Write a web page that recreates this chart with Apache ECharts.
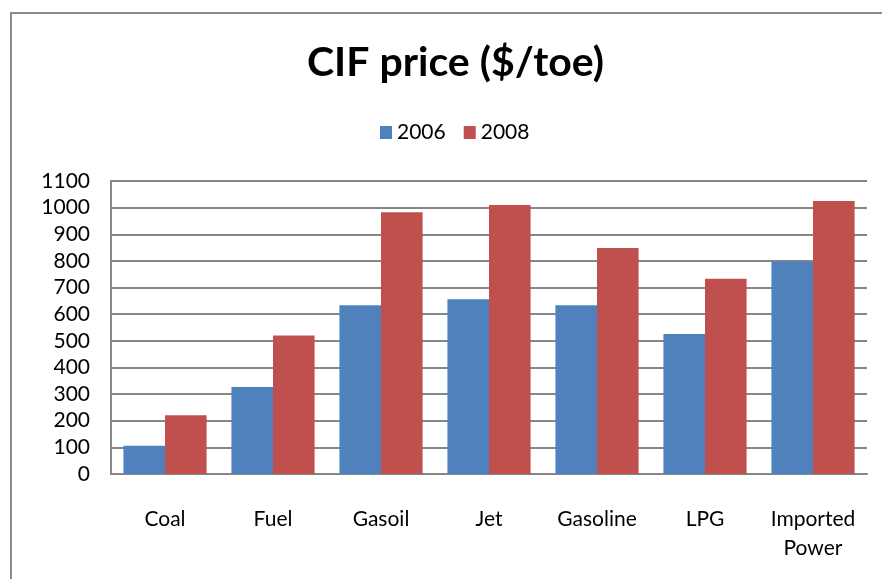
<!DOCTYPE html>
<html>
<head>
    <meta charset="UTF-8">
    <title>CIF price</title>
    <script src="https://cdn.jsdelivr.net/npm/echarts@6/dist/echarts.min.js"></script>
    <style>
        html, body { margin: 0; padding: 0; background: #fff; }
    </style>
</head>
<body>
<div id="container" style="width: 882px; height: 579px;"></div>
<script>

    // data
    var categories = ['Coal', 'Fuel', 'Gasoil', 'Jet', 'Gasoline', 'LPG', 'Imported\nPower'];
    var years = ['2006', '2008'];
    var values2006 = [106, 327, 634, 656, 634, 526, 798];
    var values2008 = [221, 520, 983, 1010, 848, 733, 1025];
    var yTicks = { min: 0, max: 1100, interval: 100 };

    var font = 'Lato, "Open Sans", sans-serif';

    var mychart = echarts.init(document.getElementById('container'));

    var option = {
        animation: false,
        title: {
            text: 'CIF price ($/toe)',
            left: 302,
            top: 37,
            textStyle: { fontFamily: font, fontSize: 41, fontWeight: 'bold', color: '#000' }
        },
        legend: {
            data: years,
            left: 375,
            top: 117,
            itemWidth: 12,
            itemHeight: 13,
            itemGap: 18,
            icon: 'rect',
            textStyle: { fontFamily: font, fontSize: 21, color: '#000' }
        },
        grid: { left: 111, right: 15, top: 181, bottom: 105 },
        xAxis: {
            type: 'category',
            data: categories,
            axisLine: { lineStyle: { color: '#868686', width: 2 } },
            axisTick: { show: false },
            axisLabel: { fontFamily: font, fontSize: 21, color: '#000', margin: 31, lineHeight: 29, interval: 0 }
        },
        yAxis: {
            type: 'value',
            min: yTicks.min,
            max: yTicks.max,
            interval: yTicks.interval,
            axisLine: { show: true, lineStyle: { color: '#868686', width: 2 } },
            axisTick: { show: false },
            splitLine: { lineStyle: { color: '#868686', width: 2 } },
            axisLabel: {
                fontFamily: font, fontSize: 21, color: '#000', margin: 21,
                formatter: function (v) { return String(v); }
            }
        },
        series: [
            {
                name: years[0],
                type: 'bar',
                data: values2006,
                barGap: '0%',
                barCategoryGap: '23%',
                itemStyle: { color: '#4F81BD' }
            },
            {
                name: years[1],
                type: 'bar',
                data: values2008,
                barGap: '0%',
                barCategoryGap: '23%',
                itemStyle: { color: '#C0504D' }
            }
        ],
        graphic: [{
            type: 'rect',
            shape: { x: 11, y: 13, width: 1000, height: 700 },
            style: { fill: null, stroke: '#8c8c8c', lineWidth: 2 },
            silent: true
        }]
    };

    mychart.setOption(option);

</script>
</body>
</html>
